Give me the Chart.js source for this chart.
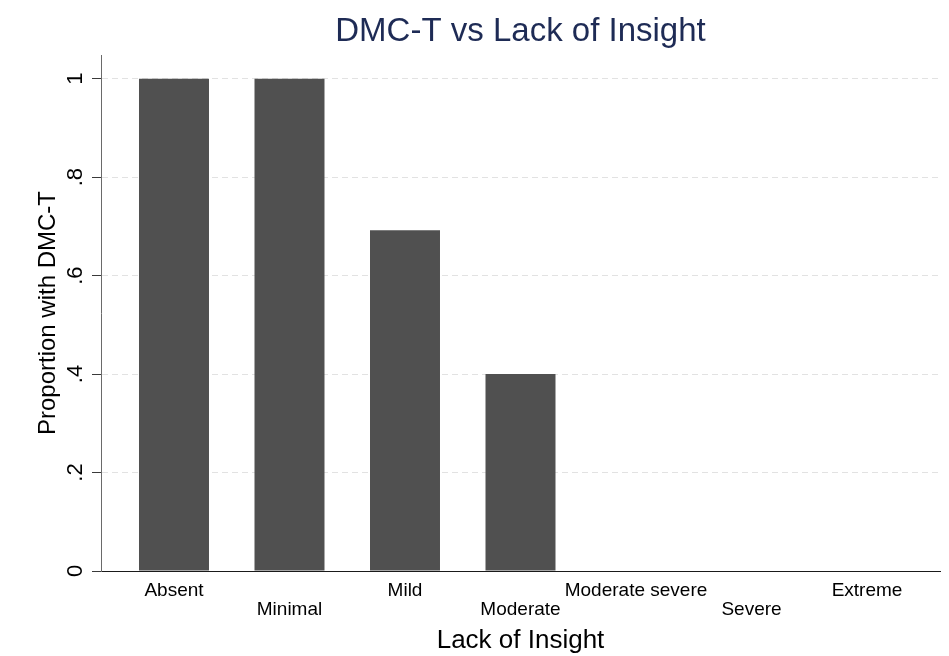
<!DOCTYPE html>
<html>
<head>
<meta charset="utf-8">
<script src="https://cdn.jsdelivr.net/npm/chart.js@4/dist/chart.umd.min.js"></script>
<style>
  html, body { margin: 0; padding: 0; background: #ffffff; }
  #wrap { width: 949px; height: 656px; }
</style>
</head>
<body>
<div id="wrap"><canvas id="chart" width="949" height="656"></canvas></div>
<script>
// Levels of lack of insight and the proportion with DMC-T at each level
const categories = ['Absent', 'Minimal', 'Mild', 'Moderate', 'Moderate severe', 'Severe', 'Extreme'];
const proportions = [1, 1, 0.692, 0.4, 0, 0, 0];
const yTickValues = [0, 0.2, 0.4, 0.6, 0.8, 1];
const yTickLabels = ['0', '.2', '.4', '.6', '.8', '1'];

const chartTitle = 'DMC-T vs Lack of Insight';
const xTitle = 'Lack of Insight';
const yTitle = 'Proportion with DMC-T';

const FONT = '"Liberation Sans", Arial, Helvetica, sans-serif';

// Titles and rotated y tick labels, drawn in the style of a Stata graph
const textPlugin = {
  id: 'stataText',
  afterDraw(chart) {
    const ctx = chart.ctx;
    const area = chart.chartArea;
    const y = chart.scales.y;
    ctx.save();

    // main title
    ctx.fillStyle = '#1e2b55';
    ctx.font = '33px ' + FONT;
    ctx.textAlign = 'center';
    ctx.textBaseline = 'alphabetic';
    ctx.fillText(chartTitle, (area.left + area.right) / 2, 41);

    // x axis title
    ctx.fillStyle = '#000000';
    ctx.font = '26px ' + FONT;
    ctx.fillText(xTitle, (area.left + area.right) / 2, 648);

    // y axis title, rotated
    ctx.save();
    ctx.translate(55, (area.top + area.bottom) / 2);
    ctx.rotate(-Math.PI / 2);
    ctx.font = '24px ' + FONT;
    ctx.textAlign = 'center';
    ctx.textBaseline = 'alphabetic';
    ctx.fillText(yTitle, 0, 0);
    ctx.restore();

    // y tick labels, rotated
    ctx.font = '22px ' + FONT;
    yTickValues.forEach((v, i) => {
      const py = y.getPixelForValue(v);
      ctx.save();
      ctx.translate(82, py);
      ctx.rotate(-Math.PI / 2);
      ctx.textAlign = 'center';
      ctx.textBaseline = 'alphabetic';
      ctx.fillText(yTickLabels[i], 0, 0);
      ctx.restore();
    });

    ctx.restore();
  }
};

const points = categories.map((c, i) => ({ x: i, y: proportions[i] }));

new Chart(document.getElementById('chart'), {
  type: 'bar',
  data: {
    datasets: [{
      data: points,
      backgroundColor: '#505050',
      borderWidth: 0,
      categoryPercentage: 1,
      barPercentage: 0.606
    }]
  },
  options: {
    responsive: false,
    animation: false,
    events: [],
    layout: { padding: { top: 55, right: 9, left: 0, bottom: 0 } },
    plugins: {
      legend: { display: false },
      tooltip: { enabled: false },
      title: { display: false }
    },
    scales: {
      x: {
        type: 'linear',
        offset: false,
        min: -0.632,
        max: categories.length - 1 + 0.632,
        afterBuildTicks: (scale) => {
          scale.ticks = categories.map((c, i) => ({ value: i }));
        },
        afterFit: (scale) => { scale.height = 85; },
        grid: {
          display: true,
          offset: false,
          drawOnChartArea: false,
          drawTicks: false,
          color: 'rgba(0,0,0,0)'
        },
        border: { display: true, color: '#1a1a1a', width: 1 },
        ticks: {
          autoSkip: false,
          maxRotation: 0,
          minRotation: 0,
          padding: 10,
          color: '#000000',
          font: { family: FONT, size: 19, lineHeight: 1.0 },
          callback: (value, index) => {
            const name = categories[index];
            return index % 2 === 1 ? ['', name] : name;
          }
        }
      },
      y: {
        min: 0,
        max: 1.048,
        afterBuildTicks: (scale) => {
          scale.ticks = yTickValues.map(v => ({ value: v }));
        },
        afterFit: (scale) => { scale.width = 101; },
        grid: {
          display: true,
          drawOnChartArea: true,
          drawTicks: true,
          tickLength: 9,
          tickColor: '#3a3a3a',
          tickWidth: 1,
          lineWidth: 1,
          color: (ctx) => (ctx.tick && ctx.tick.value === 0) ? 'rgba(0,0,0,0)' : '#e2e2e2'
        },
        border: { display: true, color: '#6a6a6a', width: 1, dash: [6, 4] },
        ticks: { display: false }
      }
    }
  },
  plugins: [textPlugin]
});
</script>
</body>
</html>
